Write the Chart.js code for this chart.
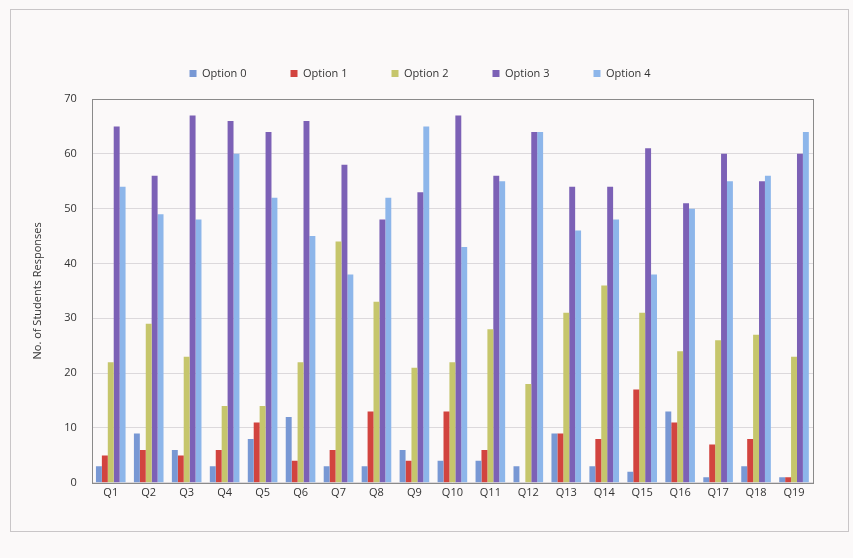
<!DOCTYPE html>
<html>
<head>
<meta charset="utf-8">
<script src="https://cdn.jsdelivr.net/npm/chart.js@4"></script>
<style>
  html, body { margin: 0; padding: 0; background: #fbf9f9; }
  #wrap { width: 853px; height: 558px; position: relative; }
</style>
</head>
<body>
<div id="wrap"><canvas id="responsesChart"></canvas></div>
<script>
// Chart data
const questions = ['Q1','Q2','Q3','Q4','Q5','Q6','Q7','Q8','Q9','Q10','Q11','Q12','Q13','Q14','Q15','Q16','Q17','Q18','Q19'];
const option0 = [3, 9, 6, 3, 8, 12, 3, 3, 6, 4, 4, 3, 9, 3, 2, 13, 1, 3, 1];
const option1 = [5, 6, 5, 6, 11, 4, 6, 13, 4, 13, 6, 0, 9, 8, 17, 11, 7, 8, 1];
const option2 = [22, 29, 23, 14, 14, 22, 44, 33, 21, 22, 28, 18, 31, 36, 31, 24, 26, 27, 23];
const option3 = [65, 56, 67, 66, 64, 66, 58, 48, 53, 67, 56, 64, 54, 54, 61, 51, 60, 55, 60];
const option4 = [54, 49, 48, 60, 52, 45, 38, 52, 65, 43, 55, 64, 46, 48, 38, 50, 55, 56, 64];
const seriesNames = ['Option 0', 'Option 1', 'Option 2', 'Option 3', 'Option 4'];
const seriesColors = ['#7898d4', '#d2443f', '#c6c66c', '#7c61b6', '#8db6ea'];

// draws the page frame and the box around the plot area
const framePlugin = {
    id: 'frame',
    beforeDraw(chart) {
        const ctx = chart.ctx;
        ctx.save();
        ctx.strokeStyle = '#c9c6c8';
        ctx.lineWidth = 1;
        ctx.strokeRect(10.5, 9.5, 838, 522);
        ctx.restore();
    },
    afterDraw(chart) {
        const a = chart.chartArea;
        const ctx = chart.ctx;
        ctx.save();
        ctx.strokeStyle = '#8a8a8a';
        ctx.lineWidth = 1;
        ctx.strokeRect(Math.round(a.left) + 0.5, Math.round(a.top) + 0.5, Math.round(a.right - a.left), Math.round(a.bottom - a.top));
        ctx.restore();
    }
};

// fixed legend block height so the plot starts where it should
const legendSpace = {
    id: 'legendSpace',
    beforeInit(chart) {
        const origFit = chart.legend.fit;
        chart.legend.fit = function() {
            origFit.bind(chart.legend)();
            this.height = 75;
        };
    }
};

const allSeries = [option0, option1, option2, option3, option4];

const chart = new Chart(document.getElementById('responsesChart'), {
    type: 'bar',
    data: {
        labels: questions,
        datasets: allSeries.map((vals, i) => ({
            label: seriesNames[i],
            data: vals,
            backgroundColor: seriesColors[i],
            borderWidth: 0,
            barPercentage: 1.0,
            categoryPercentage: 0.78
        }))
    },
    options: {
        responsive: true,
        maintainAspectRatio: false,
        animation: false,
        layout: {
            padding: { left: 27, right: 40, top: 24, bottom: 56 }
        },
        scales: {
            y: {
                min: 0,
                max: 70,
                ticks: {
                    stepSize: 10,
                    color: '#333',
                    padding: 15,
                    font: { family: 'Open Sans', size: 11 }
                },
                grid: {
                    color: '#dcd9dc',
                    drawTicks: false
                },
                border: { display: false },
                title: {
                    display: true,
                    text: 'No. of Students Responses',
                    color: '#333',
                    padding: { bottom: 5 },
                    font: { family: 'Open Sans', size: 11 }
                }
            },
            x: {
                ticks: {
                    color: '#333',
                    padding: 3,
                    font: { family: 'Open Sans', size: 11 }
                },
                grid: { display: false, drawTicks: false },
                border: { display: false }
            }
        },
        plugins: {
            legend: {
                display: true,
                position: 'top',
                labels: {
                    boxWidth: 7,
                    boxHeight: 7,
                    padding: 44,
                    color: '#333',
                    font: { family: 'Open Sans', size: 11 }
                }
            },
            tooltip: { enabled: false }
        }
    },
    plugins: [framePlugin, legendSpace]
});
</script>
</body>
</html>
